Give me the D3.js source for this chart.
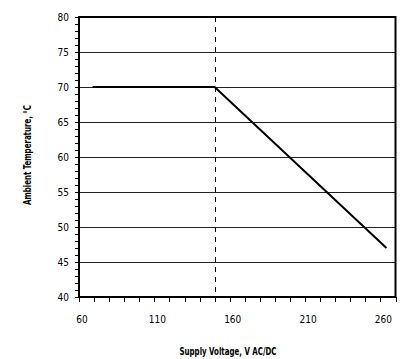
<!DOCTYPE html>
<html><head><meta charset="utf-8">
<script src="https://cdn.jsdelivr.net/npm/d3@7"></script>
<style>
body{margin:0;background:#fff;}
text{font-family:"DejaVu Sans Condensed","Liberation Sans",sans-serif;fill:#000;}
</style></head>
<body><svg id="c" width="405" height="359"></svg>
<script>
const voltage = [69, 150, 264];
const temperature = [70, 70, 47];
const xTickLabels = [60, 110, 160, 210, 260];
const yTickLabels = [40, 45, 50, 55, 60, 65, 70, 75, 80];
const dashedAt = [150];
const xTitle = "Supply Voltage, V AC/DC";
const yTitle = "Ambient Temperature, °C";

const svg = d3.select("#c");
const L = 79, R = 395.5, T = 17, B = 297;
const x = d3.scaleLinear().domain([60, 270]).range([L, R]);
const y = d3.scaleLinear().domain([40, 80]).range([B, T]);

// gridlines
svg.append("g").selectAll("line").data(yTickLabels.filter(v => v > 40 && v < 80)).join("line")
  .attr("x1", L).attr("x2", R).attr("y1", d => Math.round(y(d)) + 0.5).attr("y2", d => Math.round(y(d)) + 0.5)
  .attr("stroke", "#222").attr("stroke-width", 1);

// dashed line
svg.append("g").selectAll("line").data(dashedAt).join("line")
  .attr("x1", d => Math.round(x(d)) + 0.5).attr("x2", d => Math.round(x(d)) + 0.5)
  .attr("y1", T).attr("y2", B)
  .attr("stroke", "#000").attr("stroke-width", 1).attr("stroke-dasharray", "5,5");

// minor ticks y
const yMinor = d3.range(40, 81, 1);
svg.append("g").selectAll("line").data(yMinor).join("line")
  .attr("x1", L - 4).attr("x2", L).attr("y1", d => Math.round(y(d)) + 0.5).attr("y2", d => Math.round(y(d)) + 0.5)
  .attr("stroke", "#000").attr("stroke-width", 1);
// minor ticks x
const xMinor = d3.range(60, 271, 10);
svg.append("g").selectAll("line").data(xMinor).join("line")
  .attr("x1", d => Math.round(x(d)) + 0.5).attr("x2", d => Math.round(x(d)) + 0.5).attr("y1", B).attr("y2", B + 5)
  .attr("stroke", "#000").attr("stroke-width", 1);

// frame
svg.append("rect").attr("x", L).attr("y", T).attr("width", R - L).attr("height", B - T)
  .attr("fill", "none").attr("stroke", "#000").attr("stroke-width", 2);

// data line
const pts = voltage.map((v, i) => [v, temperature[i]]);
svg.append("path").datum(pts)
  .attr("d", d3.line().x(d => x(d[0])).y(d => y(d[1])))
  .attr("fill", "none").attr("stroke", "#000").attr("stroke-width", 2);

// tick labels
svg.append("g").selectAll("text").data(yTickLabels).join("text")
  .attr("x", 69).attr("y", d => y(d)).attr("dy", "0.35em").attr("text-anchor", "end")
  .attr("font-size", 10).text(d => d);
svg.append("g").selectAll("text").data(xTickLabels).join("text")
  .attr("x", d => x(d) + 3).attr("y", 319).attr("dy", "0.35em").attr("text-anchor", "middle")
  .attr("font-size", 10).text(d => d);

// titles
svg.append("text").attr("x", 228).attr("y", 351).attr("dy", "0.35em").attr("text-anchor", "middle")
  .attr("font-size", 11).attr("font-weight", "bold")
  .attr("textLength", 97).attr("lengthAdjust", "spacingAndGlyphs").text(xTitle);
svg.append("text").attr("transform", "translate(27,155) rotate(-90)").attr("dy", "0.35em")
  .attr("text-anchor", "middle").attr("font-size", 11).attr("font-weight", "bold")
  .attr("textLength", 100).attr("lengthAdjust", "spacingAndGlyphs").text(yTitle);
</script></body></html>
